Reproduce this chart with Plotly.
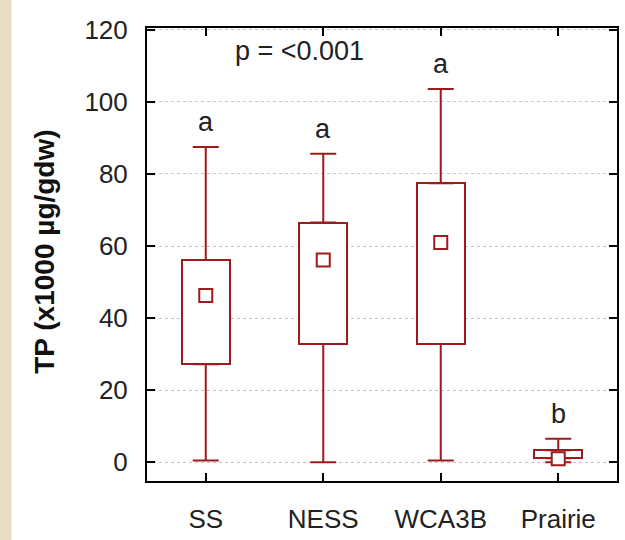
import plotly.graph_objects as go

categories = ["SS", "NESS", "WCA3B", "Prairie"]
q1 = [27.2, 32.8, 32.8, 1.1]
q3 = [56.1, 66.5, 77.4, 3.3]
mins = [0.5, 0.0, 0.5, 0.0]
maxs = [87.5, 85.6, 103.6, 6.5]
means = [46.3, 56.1, 61.0, 1.0]
letters = ["a", "a", "a", "b"]
y_ticks = [0, 20, 40, 60, 80, 100, 120]

C = "#9e1b1b"
FONT = "Liberation Sans"
xpos = list(range(len(categories)))

fig = go.Figure()

# boxes
fig.add_trace(go.Bar(
    x=xpos, y=[b - a for a, b in zip(q1, q3)], base=q1, width=0.41,
    marker=dict(color="white", line=dict(color=C, width=2)),
    hoverinfo="skip", showlegend=False))

# upper whiskers
fig.add_trace(go.Scatter(
    x=xpos, y=q3, mode="markers", marker=dict(size=1, opacity=0),
    error_y=dict(type="data", symmetric=False,
                 array=[m - q for m, q in zip(maxs, q3)],
                 arrayminus=[0] * len(xpos), width=13, thickness=2, color=C),
    showlegend=False, hoverinfo="skip"))

# lower whiskers
fig.add_trace(go.Scatter(
    x=xpos, y=q1, mode="markers", marker=dict(size=1, opacity=0),
    error_y=dict(type="data", symmetric=False,
                 array=[0] * len(xpos),
                 arrayminus=[q - m for q, m in zip(q1, mins)], width=13, thickness=2, color=C),
    showlegend=False, hoverinfo="skip"))

# means
fig.add_trace(go.Scatter(
    x=xpos, y=means, mode="markers",
    marker=dict(symbol="square", size=13, color="white", line=dict(color=C, width=2)),
    showlegend=False))

annotations = []
for i, (lt, mx) in enumerate(zip(letters, maxs)):
    annotations.append(dict(x=i, y=mx, xref="x", yref="y", text=lt, showarrow=False,
                            yanchor="middle", yshift=25,
                            font=dict(family=FONT, size=27, color="#222")))
annotations.append(dict(x=0.8, y=114, xref="x", yref="y", text="p = <0.001", showarrow=False,
                        font=dict(family=FONT, size=27, color="#222")))
annotations.append(dict(x=-0.218, y=0.505, xref="paper", yref="paper", text="<b>TP (x1000 µg/gdw)</b>",
                        textangle=-90, showarrow=False, xanchor="center", yanchor="middle",
                        font=dict(family=FONT, size=28, color="#111")))

fig.update_layout(
    width=625, height=540,
    margin=dict(l=147, r=6, t=28, b=54),
    paper_bgcolor="white", plot_bgcolor="white",
    showlegend=False, bargap=0,
    annotations=annotations,
    shapes=[dict(type="rect", xref="paper", yref="paper", x0=-0.32, x1=-0.288, y0=-0.2, y1=1.2,
                 fillcolor="#e9dcc3", line=dict(width=0), layer="below")],
    xaxis=dict(range=[-0.5, 3.5], tickmode="array", tickvals=xpos, ticktext=categories,
               showgrid=False, zeroline=False, showline=True, linecolor="black", linewidth=2,
               mirror="ticks", ticks="inside", ticklen=8, tickwidth=2, tickcolor="black",
               ticklabelstandoff=14,
               tickfont=dict(family=FONT, size=26, color="#222")),
    yaxis=dict(range=[-5.2, 120.5], tickmode="array", tickvals=y_ticks,
               showgrid=True, gridcolor="#c4c4c4", griddash="dot", gridwidth=1,
               zeroline=False, showline=True, linecolor="black", linewidth=2,
               mirror="ticks", ticks="inside", ticklen=8, tickwidth=2, tickcolor="black",
               ticklabelstandoff=12,
               tickfont=dict(family=FONT, size=26, color="#222")),
)

fig.write_html("out.html")
